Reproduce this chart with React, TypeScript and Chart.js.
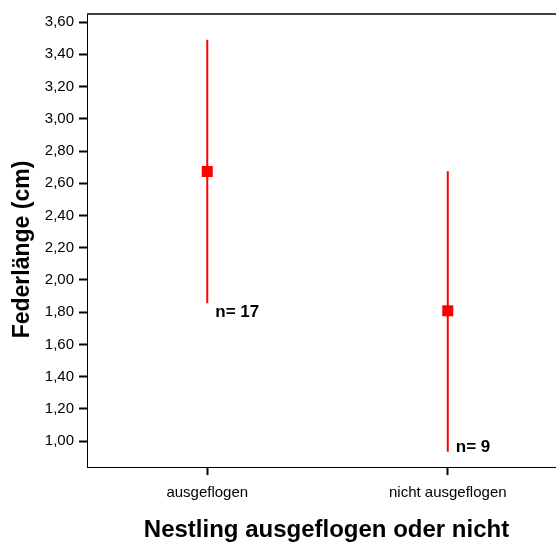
import React, { useEffect, useRef } from "react";
import { Chart, registerables } from "chart.js";

Chart.register(...registerables);

// ---- data ----
const categories = ["ausgeflogen", "nicht ausgeflogen"];
const categoryX = [1, 3];
const means = [2.673, 1.809];
const upper = [3.49, 2.675];
const lower = [1.855, 0.934];
const counts = [17, 9];
const yTicks = [1.0, 1.2, 1.4, 1.6, 1.8, 2.0, 2.2, 2.4, 2.6, 2.8, 3.0, 3.2, 3.4, 3.6];
const yMin = 0.84;
const yMax = 3.65;
const xMin = 0;
const xMax = 3.9;
const yTitle = "Federlänge (cm)";
const xTitle = "Nestling ausgeflogen oder nicht";

const RED = "#ff0000";
const FONT = "'Liberation Sans', Arial, sans-serif";

const decorPlugin = {
  id: "decor",
  afterDraw(chart: any) {
    const { ctx, chartArea, scales } = chart;
    const xs = scales.x;
    const ys = scales.y;
    ctx.save();
    // top frame line
    ctx.strokeStyle = "#404040";
    ctx.lineWidth = 2;
    ctx.beginPath();
    ctx.moveTo(chartArea.left, chartArea.top);
    ctx.lineTo(chartArea.right, chartArea.top);
    ctx.stroke();

    // n labels
    ctx.fillStyle = "#000";
    ctx.font = `bold 17px ${FONT}`;
    ctx.textAlign = "left";
    ctx.textBaseline = "alphabetic";
    counts.forEach((n, i) => {
      const px = xs.getPixelForValue(categoryX[i]) + 8;
      const py = ys.getPixelForValue(lower[i]);
      const base = py + 18 < chartArea.bottom ? py + 14 : py;
      ctx.fillText(`n= ${n}`, px, base);
    });

    // y title
    ctx.font = `bold 23px ${FONT}`;
    ctx.textAlign = "center";
    ctx.save();
    ctx.translate(29, (chartArea.top + chartArea.bottom) / 2 + 9);
    ctx.rotate(-Math.PI / 2);
    ctx.fillText(yTitle, 0, 0);
    ctx.restore();

    // x title
    ctx.font = `bold 24px ${FONT}`;
    ctx.fillText(xTitle, chartArea.left + (chartArea.right - chartArea.left) / 2 + 5, 537);
    ctx.restore();
  },
};

export default function App() {
  const ref = useRef<HTMLCanvasElement>(null);
  useEffect(() => {
    if (!ref.current) return;
    const barSets = categories.map((c, i) => ({
      label: c,
      data: [
        { x: categoryX[i], y: lower[i] },
        { x: categoryX[i], y: upper[i] },
      ],
      showLine: true,
      borderColor: RED,
      borderWidth: 2,
      pointRadius: 0,
      pointHoverRadius: 0,
    }));
    const chart = new Chart(ref.current, {
      type: "scatter",
      data: {
        datasets: [
          ...barSets,
          {
            label: "Mittelwert",
            data: means.map((m, i) => ({ x: categoryX[i], y: m })),
            pointStyle: "rect",
            pointRadius: 7.8,
            backgroundColor: RED,
            borderWidth: 0,
          } as any,
        ],
      },
      options: {
        animation: false,
        responsive: false,
        layout: { autoPadding: false, padding: { top: 9, left: 0, right: 0, bottom: 0 } },
        plugins: { legend: { display: false }, tooltip: { enabled: false } },
        scales: {
          x: {
            type: "linear",
            min: xMin,
            max: xMax,
            afterBuildTicks: (s: any) => {
              s.ticks = categoryX.map((v) => ({ value: v }));
            },
            afterFit: (s: any) => {
              s.height = 77;
            },
            ticks: {
              autoSkip: false,
              maxRotation: 0,
              padding: 9,
              color: "#000",
              font: { family: FONT, size: 15 },
              callback: (v: any) => categories[categoryX.indexOf(Number(v))] ?? "",
            },
            grid: {
              display: true,
              drawOnChartArea: false,
              tickLength: 8,
              tickWidth: 2,
              tickColor: "#000",
            },
            border: { display: true, color: "#000", width: 1 },
          },
          y: {
            type: "linear",
            min: yMin,
            max: yMax,
            afterBuildTicks: (s: any) => {
              s.ticks = yTicks.map((v) => ({ value: v }));
            },
            afterFit: (s: any) => {
              s.width = 87;
            },
            ticks: {
              padding: 5,
              color: "#000",
              font: { family: FONT, size: 15 },
              callback: (v: any) => Number(v).toFixed(2).replace(".", ","),
            },
            grid: {
              display: true,
              drawOnChartArea: false,
              tickLength: 8,
              tickWidth: 2,
              tickColor: "#000",
            },
            border: { display: true, color: "#000", width: 1 },
          },
        },
      },
      plugins: [decorPlugin],
    });
    return () => chart.destroy();
  }, []);
  return (
    <div style={{ position: "fixed", left: 0, top: 0, width: 556, height: 544, background: "#fff" }}>
      <canvas ref={ref} width={556} height={544} />
    </div>
  );
}
